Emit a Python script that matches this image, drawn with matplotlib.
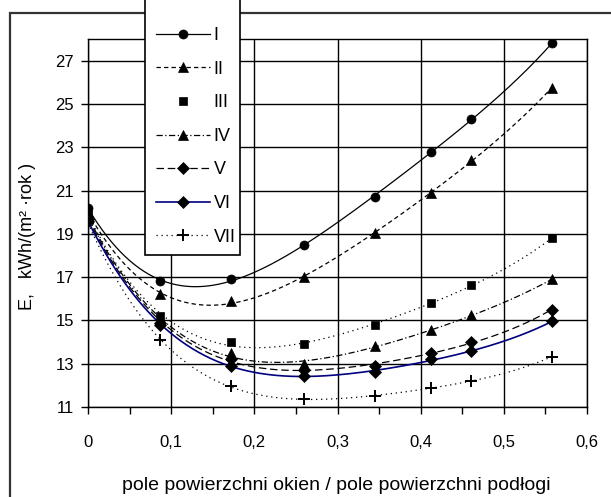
import numpy as np
import matplotlib
matplotlib.use("Agg")
import matplotlib.pyplot as plt
from matplotlib.lines import Line2D
from matplotlib.patches import Rectangle
from matplotlib.ticker import MultipleLocator, FuncFormatter

plt.rcParams['font.family'] = ['Liberation Sans', 'DejaVu Sans']

# ---- data ----
x_ratio = [0.0, 0.087, 0.172, 0.26, 0.345, 0.413, 0.461, 0.558]
series_labels = ["I", "II", "III", "IV", "V", "VI", "VII"]
E_I   = [20.2, 16.8, 16.9, 18.5, 20.7, 22.8, 24.3, 27.8]
E_II  = [20.0, 16.2, 15.9, 17.0, 19.05, 20.9, 22.4, 25.75]
E_III = [19.9, 15.2, 14.0, 13.9, 14.8, 15.8, 16.65, 18.8]
E_IV  = [19.8, 15.0, 13.5, 13.0, 13.8, 14.55, 15.25, 16.9]
E_V   = [19.7, 14.9, 13.2, 12.7, 12.9, 13.5, 14.0, 15.5]
E_VI  = [19.6, 14.8, 12.9, 12.45, 12.6, 13.2, 13.6, 14.95]
E_VII = [19.5, 14.1, 11.95, 11.35, 11.5, 11.9, 12.2, 13.33]
all_series = [E_I, E_II, E_III, E_IV, E_V, E_VI, E_VII]

y_ticks = [11, 13, 15, 17, 19, 21, 23, 25, 27]
x_ticks = [0.0, 0.1, 0.2, 0.3, 0.4, 0.5, 0.6]

# ---- styles ----
markers = ['o', '^', 's', '^', 'D', 'D', '+']
msizes = [6.5, 7, 6, 7, 6, 6, 9]
colors = ['black', 'black', 'black', 'black', 'black', '#000080', 'black']
dashes = [None, (3.5, 2.5), (1, 3), (5, 2, 1, 2), (6, 3), None, (1, 3)]
legend_has_line = [True, True, False, True, True, True, True]

W, H = 611, 497
fig = plt.figure(figsize=(W / 100, H / 100), dpi=100)
ax = fig.add_axes([88 / W, 1 - 407 / H, (587 - 88) / W, (407 - 39) / H])

xs = np.array(x_ratio)
xfit = np.linspace(0, xs.max(), 300)
handles = []
for ys, mk, ms, c, d, hl, lab in zip(all_series, markers, msizes, colors,
                                     dashes, legend_has_line, series_labels):
    ys = np.array(ys)
    coef = np.polyfit(xs, ys, 4)
    lw = 1.2 if c != 'black' else 0.9
    line, = ax.plot(xfit, np.polyval(coef, xfit), color=c, lw=lw, zorder=3)
    if d is not None:
        line.set_dashes(d)
    ax.plot(xs, ys, linestyle='none', marker=mk, ms=ms, color='black',
            mew=1.4 if mk == '+' else 0.5, zorder=4)
    h = Line2D([], [], color=c, lw=lw, marker=mk, ms=ms,
               markerfacecolor='black', markeredgecolor='black',
               mew=1.4 if mk == '+' else 0.5,
               linestyle='-' if hl else 'none')
    if d is not None and hl:
        h.set_dashes(d)
    handles.append(h)

ax.set_xlim(0, 0.6)
ax.set_ylim(11, 28)
ax.set_yticks(y_ticks)
ax.set_xticks(x_ticks)
ax.xaxis.set_minor_locator(MultipleLocator(0.05))
ax.xaxis.set_major_formatter(FuncFormatter(lambda v, p: ("%g" % round(v, 2)).replace('.', ',')))
ax.grid(True, which='major', color='black', lw=1.0, zorder=1)
ax.set_axisbelow(True)
ax.tick_params(axis='x', which='both', direction='out', length=5, width=1,
               pad=15, labelsize=12)
ax.tick_params(axis='y', direction='out', length=5, width=1, pad=5, labelsize=12)
for s in ax.spines.values():
    s.set_linewidth(1.0)

fig.text(336 / W, 1 - 486 / H, "pole powierzchni okien / pole powierzchni podłogi",
         ha='center', va='center', fontsize=14)
fig.text(28 / W, 1 - 236 / H, "E,   kWh/(m² ·rok )", rotation=90,
         ha='center', va='center', fontsize=13)

# outer border
border = Rectangle((10 / W, -0.1), 1.2, 1 - 13 / H + 0.1, transform=fig.transFigure,
                   fill=False, edgecolor='#333333', lw=1.6, clip_on=False)
fig.add_artist(border)

# legend box
lbox = Rectangle((145 / W, 1 - 255 / H), (240 - 145) / W, 255 / H + 0.05,
                 transform=fig.transFigure, facecolor='white', edgecolor='black',
                 lw=1.2, clip_on=False, zorder=4)
fig.add_artist(lbox)
leg = fig.legend(handles, series_labels, loc='upper left',
                 bbox_to_anchor=(147 / W, 1 - 18 / H), frameon=False,
                 borderpad=0, handlelength=3.0, handletextpad=0.2,
                 labelspacing=0.92, fontsize=13, numpoints=1)
leg.set_zorder(5)

fig.savefig("out.png", dpi=100)
